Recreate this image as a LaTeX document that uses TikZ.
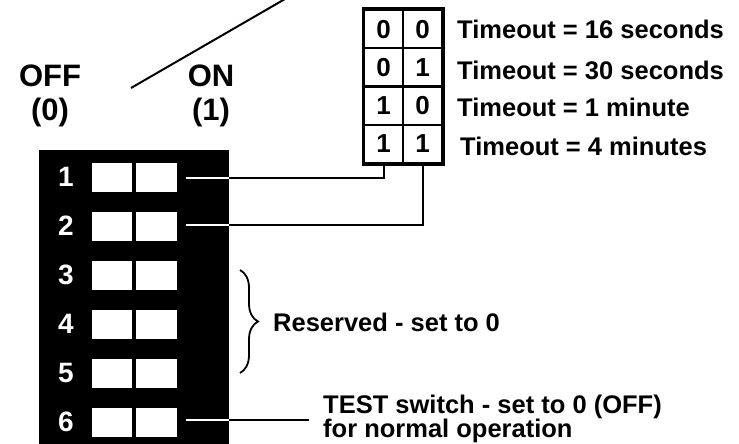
\documentclass[tikz,border=0pt]{standalone}
\usepackage{fontspec}
\setmainfont{Liberation Sans}
\usetikzlibrary{decorations.pathreplacing}
\begin{document}
\begin{tikzpicture}[x=1pt,y=-1pt,
  txt/.style={font=\fontsize{25.5}{24}\selectfont\bfseries, inner sep=0pt},
  big/.style={font=\fontsize{31}{33}\selectfont\bfseries, inner sep=0pt, align=center},
  swbox/.style={fill=white, draw=none, minimum width=40pt, minimum height=29pt, inner sep=0pt},
  swnum/.style={text=white, font=\fontsize{28}{30}\selectfont\bfseries, inner sep=0pt},
  cell/.style={draw, line width=2pt, minimum width=39pt, minimum height=38.25pt, inner sep=0pt,
    font=\fontsize{26}{28}\selectfont\bfseries},
  wire/.style={line width=2pt},
  wwire/.style={line width=2pt, white}]
\useasboundingbox (0,0) rectangle (739,444);
\clip (0,0) rectangle (739,444);
% OFF / ON labels
\node[big, anchor=base] (off) at (50,87) {OFF};
\node[big, anchor=base] (off0) at (50,120) {(0)};
\node[big, anchor=base] (on) at (211,87) {ON};
\node[big, anchor=base] (on1) at (211,120) {(1)};
% slanted line
\coordinate (sl1) at (131,88);
\coordinate (sl2) at (285,-1);
\draw[wire] (sl1) -- (sl2);
% panel
\node[fill=black, draw=none, minimum width=190pt, minimum height=310pt, inner sep=0pt, anchor=north west] (panel) at (39,150) {};
\foreach \i/\y in {1/177,2/226,3/275,4/324,5/373,6/422}{
  \node[swbox] (swl\i) at (112,\y) {};
  \node[swbox, minimum width=41pt] (swr\i) at (156.5,\y) {};
  \node[swnum] (n\i) at (66,\y) {\i};
}
% table
\foreach \r/\a/\b [count=\k] in {1/0/0,2/0/1,3/1/0,4/1/1}{
  \node[cell] (t\r1) at (383.5,{10+19.125+38.25*(\k-1)}) {\a};
  \node[cell] (t\r2) at (422.5,{10+19.125+38.25*(\k-1)}) {\b};
}
\draw[line width=3pt] (t11.north west) rectangle (t42.south east);
% timeout texts
\node[txt, anchor=base west] (to1) at (457,39) {Timeout = 16 seconds};
\node[txt, anchor=base west] (to2) at (457,79) {Timeout = 30 seconds};
\node[txt, anchor=base west] (to3) at (457,117) {Timeout = 1 minute};
\node[txt, anchor=base west] (to4) at (460,155) {Timeout = 4 minutes};
% connectors
\coordinate (w1) at (186,178);
\coordinate (w2) at (186,225);
\coordinate (w6) at (186,420);
\draw[wwire] (w1) -- (w1 -| panel.east);
\draw[wwire] (w2) -- (w2 -| panel.east);
\draw[wwire] (w6) -- (w6 -| panel.east);
\draw[wire] (w1 -| panel.east) -| (t41.south);
\draw[wire] (w2 -| panel.east) -| (t42.south);
\coordinate (testend) at (309,420);
\draw[wire] (w6 -| panel.east) -- (testend);
% brace
\coordinate (br1) at (240,270);
\coordinate (br2) at (240,373);
\draw[line width=1.8pt, decorate, decoration={brace, amplitude=18pt}] (br1) -- (br2);
\node[txt, anchor=base west] (res) at (273,331) {Reserved - set to 0};
\node[txt, anchor=base west, align=left] (test) at (323,437) {TEST switch - set to 0 (OFF)\\for normal operation};
\end{tikzpicture}
\end{document}
